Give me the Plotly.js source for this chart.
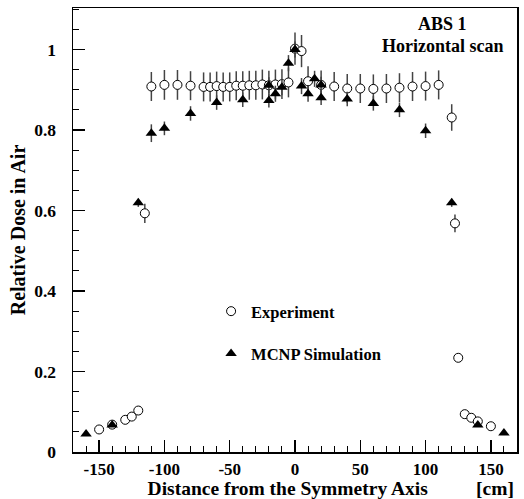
<!DOCTYPE html>
<html>
<head>
<meta charset="utf-8">
<script src="https://cdn.plot.ly/plotly-3.0.1.min.js"></script>
<style>html,body{margin:0;padding:0;background:#fff;}#chart{width:524px;height:499px;}</style>
</head>
<body>
<div id="chart"></div>
<script>
// Experiment (open circles)
const expX = [-150,-140,-130,-125,-120,-115,-110,-100,-90,-80,-70,-65,-60,-55,-50,-45,-40,-35,-30,-25,-20,-15,-10,-5,0,5,10,20,30,40,50,60,70,80,90,100,110,120,122.5,125,130,135,140,150];
const expY = [0.056,0.068,0.080,0.088,0.103,0.593,0.908,0.912,0.912,0.910,0.907,0.907,0.909,0.907,0.907,0.910,0.910,0.911,0.911,0.913,0.911,0.913,0.914,0.918,1.002,0.996,0.921,0.912,0.908,0.903,0.903,0.902,0.903,0.905,0.908,0.909,0.912,0.831,0.568,0.234,0.094,0.085,0.076,0.064];
const expErr = [0.002,0.003,0.003,0.004,0.004,0.024,0.036,0.037,0.037,0.036,0.036,0.036,0.036,0.036,0.036,0.036,0.036,0.036,0.036,0.037,0.036,0.037,0.037,0.037,0.040,0.040,0.037,0.036,0.036,0.036,0.036,0.036,0.036,0.036,0.036,0.036,0.036,0.033,0.022,0.009,0.004,0.003,0.003,0.003];

// MCNP Simulation (filled triangles)
const simX = [-160,-140,-120,-110,-100,-80,-60,-40,-20,-20,-15,-10,-5,0,5,10,15,20,20,40,60,80,100,120,140,160];
const simY = [0.045,0.067,0.619,0.792,0.804,0.841,0.868,0.875,0.873,0.911,0.890,0.906,0.966,1.000,0.909,0.890,0.927,0.912,0.880,0.877,0.866,0.850,0.798,0.619,0.067,0.047];
const simErr = [0,0,0.010,0.022,0.017,0.018,0.018,0.018,0.017,0.020,0.020,0.020,0.020,0.020,0.020,0.020,0.020,0.020,0.018,0.018,0.018,0.018,0.018,0.010,0,0];

const xTickVals = [-150,-100,-50,0,50,100,150];
const xTickText = ['-150','-100','-50','0','50','100','150'];
const yTickVals = [0,0.2,0.4,0.6,0.8,1];
const yTickText = ['0','0.2','0.4','0.6','0.8','1'];

const FONT = 'Liberation Serif, Times New Roman, serif';
const bold = (s) => ({family: FONT, size: s, color: '#000', weight: 700});

const traces = [
  {
    type: 'scatter', mode: 'markers', name: 'Experiment',
    x: expX, y: expY, legendgroup: 'a',
    error_y: {type: 'data', array: expErr, visible: true, color: '#444', thickness: 1.5, width: 0},
    marker: {symbol: 'circle', size: 9, color: '#fff', line: {color: '#000', width: 1}}
  },
  {
    type: 'scatter', mode: 'markers', name: 'MCNP Simulation',
    x: simX, y: simY, legendgroup: 'b',
    error_y: {type: 'data', array: simErr, visible: true, color: '#444', thickness: 1.5, width: 0},
    marker: {symbol: 'triangle-up', size: 10, color: '#000', line: {color: '#000', width: 0}}
  }
];

const axisCommon = {
  ticks: 'inside', ticklen: 12, tickwidth: 1.5, tickcolor: '#000',
  showline: true, linewidth: 1.5, linecolor: '#000', mirror: true,
  showgrid: false, zeroline: false, tickfont: bold(17.5), tickmode: 'array',
  automargin: false
};

const layout = {
  width: 524, height: 499,
  margin: {l: 73, r: 7, t: 8, b: 47, pad: 0},
  paper_bgcolor: '#fff', plot_bgcolor: '#fff',
  showlegend: true,
  legend: {
    x: 0.311, y: 0.356, xanchor: 'left', yanchor: 'top',
    font: bold(16.5), bgcolor: 'rgba(0,0,0,0)', borderwidth: 0,
    traceorder: 'grouped', tracegroupgap: 18
  },
  xaxis: Object.assign({}, axisCommon, {
    range: [-170, 170], tickvals: xTickVals, ticktext: xTickText,
    tickfont: bold(17), ticklabelstandoff: 1,
    minor: {ticks: 'inside', ticklen: 6, tickwidth: 1, tickcolor: '#000', tick0: 0, dtick: 10, showgrid: false},
    title: {text: 'Distance from the Symmetry Axis&nbsp;&nbsp;&nbsp;', font: bold(19.5), standoff: 13}
  }),
  yaxis: Object.assign({}, axisCommon, {
    range: [0, 1.103], tickvals: yTickVals, ticktext: yTickText,
    ticklabelstandoff: 12,
    minor: {ticks: 'inside', ticklen: 6, tickwidth: 1, tickcolor: '#000', tick0: 0, dtick: 0.05, showgrid: false},
    title: {text: 'Relative Dose in Air', font: bold(20), standoff: 3}
  }),
  annotations: [
    {text: 'ABS 1', xref: 'paper', yref: 'paper', x: 0.833, y: 0.964, xanchor: 'center', yanchor: 'middle', showarrow: false, font: bold(18)},
    {text: 'Horizontal scan', xref: 'paper', yref: 'paper', x: 0.833, y: 0.914, xanchor: 'center', yanchor: 'middle', showarrow: false, font: bold(18)},
    {text: '[cm]', xref: 'paper', yref: 'paper', x: 0.997, y: -0.0815, xanchor: 'right', yanchor: 'middle', showarrow: false, font: bold(19.5)}
  ]
};

Plotly.newPlot('chart', traces, layout, {displayModeBar: false, staticPlot: true});
</script>
</body>
</html>
